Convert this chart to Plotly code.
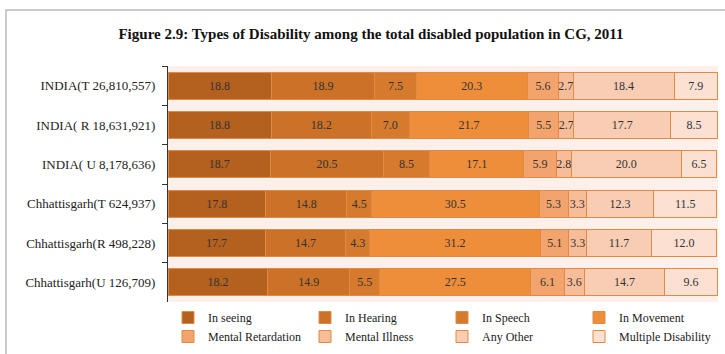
import plotly.graph_objects as go

categories = [
    "INDIA(T 26,810,557)",
    "INDIA( R 18,631,921)",
    "INDIA( U 8,178,636)",
    "Chhattisgarh(T 624,937)",
    "Chhattisgarh(R 498,228)",
    "Chhattisgarh(U 126,709)",
]

series_names = ["In seeing", "In Hearing", "In Speech", "In Movement",
                "Mental Retardation", "Mental Illness", "Any Other", "Multiple Disability"]

in_seeing = [18.8, 18.8, 18.7, 17.8, 17.7, 18.2]
in_hearing = [18.9, 18.2, 20.5, 14.8, 14.7, 14.9]
in_speech = [7.5, 7.0, 8.5, 4.5, 4.3, 5.5]
in_movement = [20.3, 21.7, 17.1, 30.5, 31.2, 27.5]
mental_retardation = [5.6, 5.5, 5.9, 5.3, 5.1, 6.1]
mental_illness = [2.7, 2.7, 2.8, 3.3, 3.3, 3.6]
any_other = [18.4, 17.7, 20.0, 12.3, 11.7, 14.7]
multiple = [7.9, 8.5, 6.5, 11.5, 12.0, 9.6]

series_values = [in_seeing, in_hearing, in_speech, in_movement,
                 mental_retardation, mental_illness, any_other, multiple]
colors = ["#B4601F", "#CB7228", "#D67B2D", "#EE8E3A",
          "#F3A46C", "#F7BC98", "#F9CDB3", "#FCE0D1"]

serif = "Liberation Serif, Times New Roman, serif"

fig = go.Figure()
for name, vals, col in zip(series_names, series_values, colors):
    fig.add_trace(go.Bar(
        y=categories, x=vals, name=name, orientation="h",
        marker=dict(color=col, line=dict(color="#E08A45", width=1)),
        text=[f"{v:.1f}" for v in vals], textposition="inside",
        insidetextanchor="middle", textangle=0,
        textfont=dict(family=serif, size=12, color="#333333"),
        hoverinfo="x+name",
    ))

W0, W1 = 168, 718
T, B = 66, 302
pw, ph = W1 - W0, B - T

def px_x(p):
    return (p - W0) / pw

def px_y(p):
    return (B - p) / ph

fig.update_layout(
    width=725, height=354,
    barmode="stack", bargap=0.31,
    margin=dict(l=W0, r=725 - W1, t=T, b=354 - B, autoexpand=False),
    paper_bgcolor="white", plot_bgcolor="#FDF0EA",
    uniformtext=dict(minsize=12, mode="show"),
    title=dict(text="<b>Figure 2.9: Types of Disability among the total disabled population in CG, 2011</b>",
               x=371 / 725, xanchor="center",
               y=1 - 34 / 354, yanchor="middle",
               font=dict(family=serif, size=15, color="#111111")),
    xaxis=dict(range=[0, 100.2], showgrid=False, showticklabels=False, zeroline=False,
               showline=False, fixedrange=True),
    yaxis=dict(autorange="reversed", tickson="boundaries", ticks="outside", ticklen=5,
               tickcolor="#333333", showline=True, linecolor="#333333", linewidth=1,
               showgrid=False, tickfont=dict(family=serif, size=13, color="#222222"),
               ticklabelstandoff=9),
    showlegend=True,
    legend=dict(orientation="h", x=0, xanchor="left", y=px_y(351), yanchor="bottom",
                entrywidth=92, entrywidthmode="pixels", traceorder="normal",
                font=dict(family=serif, size=12, color="#222222"),
                itemwidth=30, bgcolor="rgba(0,0,0,0)"),
    shapes=[dict(type="rect", xref="paper", yref="paper",
                 x0=px_x(6), x1=px_x(740), y0=px_y(400), y1=px_y(10),
                 line=dict(color="#BBBBBB", width=1.5), layer="below")],
)

fig.write_html("out.html", config={"displayModeBar": False},
               post_script="document.body.style.margin='0';document.body.style.overflow='hidden';")
